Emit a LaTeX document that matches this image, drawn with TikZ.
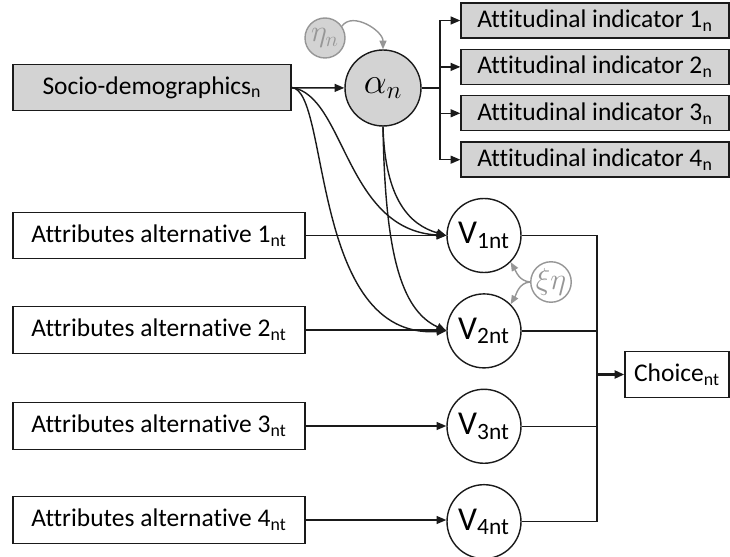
\documentclass[tikz,border=0pt]{standalone}
\usepackage{fontspec}
\setmainfont{Carlito}[Ligatures=NoCommon]
\usetikzlibrary{arrows.meta,positioning}
\definecolor{ink}{HTML}{1A1A1A}
\definecolor{shade}{HTML}{D3D3D3}
\definecolor{mute}{HTML}{969696}
\tikzset{
  box/.style={draw=ink, line width=0.8pt, fill=white, align=center, inner sep=0pt, minimum height=0.93cm, font=\fontsize{14.5}{16}\selectfont},
  graybox/.style={box, fill=shade},
  attbox/.style={graybox, minimum width=5.36cm, minimum height=0.7cm},
  attrbox/.style={box, minimum width=5.84cm},
  latent/.style={circle, draw=ink, line width=0.8pt, fill=shade, inner sep=0pt, minimum size=1.52cm, font=\fontsize{20}{22}\selectfont},
  util/.style={circle, draw=ink, line width=0.8pt, fill=white, inner sep=0pt, minimum size=1.48cm, font=\fontsize{19}{21}\selectfont},
  err/.style={circle, draw=mute, line width=0.8pt, inner sep=0pt, minimum size=0.8cm, text=mute, font=\fontsize{18}{20}\selectfont},
  arrow/.style={-{Triangle[length=5.5pt,width=4.5pt]}, line width=0.8pt, draw=ink},
  grayarrow/.style={-{Triangle[length=5pt,width=4pt]}, line width=0.8pt, draw=mute},
  bus/.style={line width=1.6pt, draw=ink}
}
\begin{document}
\begin{tikzpicture}[x=0.02cm, y=-0.02cm]
\useasboundingbox (0,0) rectangle (730,557);
% latent part
\node[graybox, minimum width=5.56cm] (socio) at (152,87.5) {Socio-demographics\textsubscript{n}};
\node[latent] (alpha) at (383,88) {$\alpha_n$};
\node[err, fill=shade] (eta) at (325,38) {$\eta_n$};
\node[attbox] (att1) at (595,20.5) {Attitudinal indicator 1\textsubscript{n}};
\node[attbox, below=2mm of att1] (att2) {Attitudinal indicator 2\textsubscript{n}};
\node[attbox, below=2mm of att2] (att3) {Attitudinal indicator 3\textsubscript{n}};
\node[attbox, below=2mm of att3] (att4) {Attitudinal indicator 4\textsubscript{n}};
\coordinate (brA) at (440,88);
\draw[arrow] (socio) -- (alpha);
\draw[grayarrow] (eta.35) to[out=55,in=90] (alpha.north);
\draw[bus] (alpha.east) -- (brA);
\foreach \i in {1,...,4} \draw[arrow] (brA) |- (att\i.west);
% utilities
\node[util] (V1) at (484,235.5) {V\textsubscript{1nt}};
\node[util, below=4mm of V1] (V2) {V\textsubscript{2nt}};
\node[util, below=4mm of V2] (V3) {V\textsubscript{3nt}};
\node[util, below=4mm of V3] (V4) {V\textsubscript{4nt}};
\node[err, fill=white] (xi) at (551,282) {$\xi\eta$};
\draw[grayarrow] (xi.west) to[out=175,in=-60] (V1.-45);
\draw[grayarrow] (xi.west) to[out=185,in=60] (V2.45);
\node[attrbox] (attr1) at (159,235.5) {Attributes alternative 1\textsubscript{nt}};
\node[attrbox] (attr2) at (159,330) {Attributes alternative 2\textsubscript{nt}};
\node[attrbox] (attr3) at (159,426) {Attributes alternative 3\textsubscript{nt}};
\node[attrbox] (attr4) at (159,520) {Attributes alternative 4\textsubscript{nt}};
\foreach \i in {1,...,4} \draw[arrow] (attr\i.east) -- (V\i.west |- attr\i.east);
\draw[arrow] (socio.east) .. controls (345,95) and (345,230) .. (V1.west);
\draw[arrow] (socio.east) .. controls (330,90) and (310,340) .. (V2.west);
\draw[arrow] (alpha.south) .. controls (385,200) and (410,225) .. (V1.west);
\draw[arrow] (alpha.south) .. controls (385,250) and (400,310) .. (V2.west);
% choice
\node[box, minimum width=2.08cm] (choice) at (677,374.5) {Choice\textsubscript{nt}};
\coordinate (brV) at (597,374.5);
\foreach \i in {1,...,4} \draw[line width=0.8pt, draw=ink] (V\i.east) -| (brV);
\draw[arrow, line width=1.6pt] (brV) -- (choice.west);
\end{tikzpicture}
\end{document}
